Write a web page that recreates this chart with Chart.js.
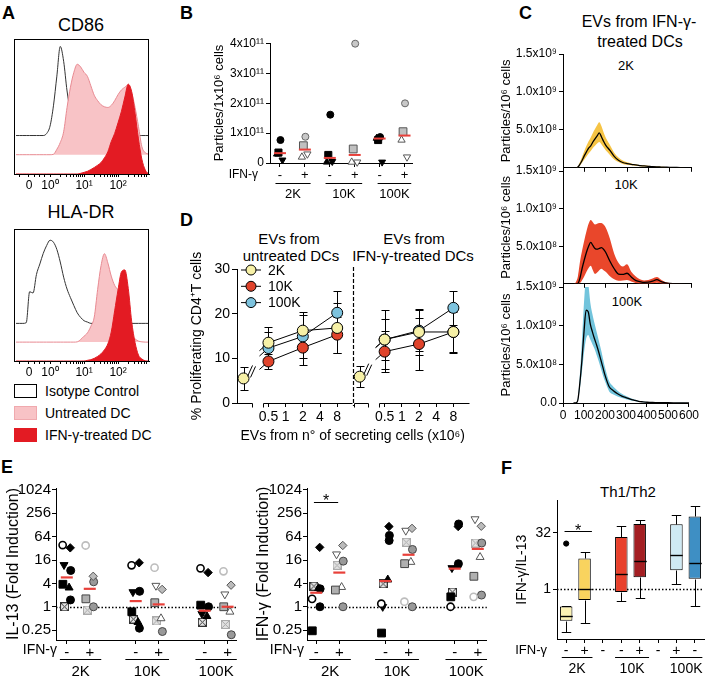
<!DOCTYPE html>
<html>
<head>
<meta charset="utf-8">
<title>EV figure</title>
<script src="https://cdn.jsdelivr.net/npm/chart.js@4.4.1/dist/chart.umd.min.js"></script>
<style>
  html, body { margin: 0; padding: 0; background: #fff; }
  body { position: relative; width: 709px; height: 682px; overflow: hidden;
         font-family: 'Liberation Sans', Arial, sans-serif; color: #000; }
  canvas { position: absolute; }
  .t { position: absolute; white-space: nowrap; line-height: 1; }
  .c { transform: translateX(-50%); }
  .L { font-weight: bold; font-size: 18px; }
  .sw { position: absolute; width: 21px; height: 12px; border: 1px solid #000; }
</style>
</head>
<body>
<!-- panel letters -->
<div class="t L" style="left:2px;top:4px">A</div>
<div class="t L" style="left:180px;top:4px">B</div>
<div class="t L" style="left:519px;top:4px">C</div>
<div class="t L" style="left:180px;top:211px">D</div>
<div class="t L" style="left:1px;top:458px">E</div>
<div class="t L" style="left:501px;top:459px">F</div>

<!-- A titles + legend -->
<div class="t c" style="left:81px;top:16px;font-size:18px">CD86</div>
<div class="t c" style="left:81px;top:203px;font-size:18px">HLA-DR</div>
<div class="sw" style="left:14px;top:384px;background:#fff"></div>
<div class="t" style="left:45px;top:384px;font-size:14px">Isotype Control</div>
<div class="sw" style="left:14px;top:406px;background:#F8C3C6;border-color:#F0A9AE"></div>
<div class="t" style="left:45px;top:406px;font-size:14px">Untreated DC</div>
<div class="sw" style="left:14px;top:428px;background:#E31B23;border-color:#E31B23"></div>
<div class="t" style="left:45px;top:428px;font-size:14px">IFN-γ-treated DC</div>

<!-- C titles -->
<div class="t c" style="left:639px;top:14px;font-size:16px">EVs from IFN-γ-</div>
<div class="t c" style="left:640px;top:34px;font-size:16px">treated DCs</div>
<div class="t c" style="left:626px;top:59px;font-size:13px">2K</div>
<div class="t c" style="left:626px;top:178px;font-size:13px">10K</div>
<div class="t c" style="left:627px;top:295px;font-size:13px">100K</div>

<!-- D titles -->
<div class="t c" style="left:289px;top:231px;font-size:15px">EVs from</div>
<div class="t c" style="left:291px;top:248px;font-size:15px">untreated DCs</div>
<div class="t c" style="left:414px;top:231px;font-size:15px">EVs from</div>
<div class="t c" style="left:413px;top:248px;font-size:15px">IFN-γ-treated DCs</div>

<!-- F title -->
<div class="t c" style="left:628px;top:484px;font-size:15px">Th1/Th2</div>

<canvas id="a1" width="160" height="170" style="left:0;top:30px"></canvas>
<canvas id="a2" width="160" height="167" style="left:0;top:220px"></canvas>
<canvas id="b" width="212" height="170" style="left:208px;top:33px"></canvas>
<canvas id="c1" width="203" height="133" style="left:497px;top:44px"></canvas>
<canvas id="c2" width="203" height="132" style="left:497px;top:161px"></canvas>
<canvas id="c3" width="203" height="146" style="left:497px;top:277px"></canvas>
<canvas id="d" width="290" height="205" style="left:185px;top:240px"></canvas>
<canvas id="e1" width="245" height="204" style="left:0;top:478px"></canvas>
<canvas id="e2" width="245" height="204" style="left:250px;top:478px"></canvas>
<canvas id="f" width="199" height="191" style="left:510px;top:490px"></canvas>

<script>
// ---------- data ----------

// A: flow histograms, x in decades (10^0 = 0), heights in % of panel
const A_X = [-1.0,-0.9,-0.8,-0.7,-0.6,-0.5,-0.4,-0.3,-0.2,-0.1,0,0.1,0.2,0.3,0.4,0.5,0.6,0.7,0.8,0.9,1.0,1.1,1.2,1.3,1.4,1.5,1.6,1.7,1.8,1.9,2.0,2.1,2.2,2.3,2.4,2.5,2.6,2.7,2.8,2.9];
const CD86_ISO = [0,0,0,0,0,0,0,0,0,1.5,7,22,44,66,55,33,18,10,5,2,0.5,0,0,0,0,0,0,0,0,0,0,0,0,0,0,0,0,0,0,0];
const CD86_UNT = [0,0,0,0,0,0,0,0,0,0,0,0.3,4,9,17,35,50,61,67,65,61,58,51,44,40,37,35.5,35,36.5,40,44.5,48,50,52,46,35,21,6,1.5,0.5];
const CD86_IFN = [0,0,0,0,0,0,0,0,0,0,0,0,0,0,0,0,0,0,0,0.5,1.2,2,3.3,4.8,6.5,8.5,12,16.5,24,30,38,46.5,57,66.5,61,45,26,11,3,0];
const HLA_ISO = [0,0,0,0.5,24,23,37,45,53,59,63,61.5,56,46.5,35,26,19.5,13.5,8,4.5,2,1,0,0,0,0,0,0,0,0,0,0,0,0,0,0,0,0,0,0];
const HLA_UNT = [0,0,0,0,0,0,0,0,0,0,0,0,0,0,0,0,0,0,0.2,2,4.5,7,12,19,40,58,67,60,50,43,39.5,35,30,23,6,2.5,0.8,0.2,0,0];
const HLA_IFN = [0,0,0,0,0,0,0,0,0,0,0,0,0,0,0,0,0,0,0,0,0,0.5,1,2,3.5,5.5,8.5,13,22,38,54,67.5,69,55,30,14,4.5,1.5,0.2,0];
const A_MAJOR = [-0.62, 0, 1, 2];
const A_MAJOR_LBL = ['0', '10⁰', '10¹', '10²'];

// B: particles per 1e6 cells; columns 2K-,2K+,10K-,10K+,100K-,100K+
const B_CIRC = [0.77e11, 0.88e11, 1.62e11, 4.0e11, 0.87e11, 2.0e11];
const B_SQR  = [0.35e11, 0.58e11, 0.27e11, 0.47e11, 0.77e11, 1.05e11];
const B_TDN  = [0.1e11, 0.3e11, 0.05e11, 0.03e11, 0.03e11, 0.2e11];
const B_TUP  = [0.3e11, 0.2e11, 0.03e11, 0.03e11, 0.83e11, 0.77e11];
const B_MED  = [0.33e11, 0.45e11, 0.17e11, 0.27e11, 0.82e11, 0.92e11];

// C: size distributions (nm) in units of 1e8 particles/1e6 cells
const C_NM = [50,60,70,80,90,100,110,120,130,140,150,160,170,180,190,200,220,240,260,280,300,320,340,360,380,400,420,440,460,480,500,550,600];
const C2K_MEAN = [0,0,0.1,0.5,1.0,1.6,2.1,2.6,2.9,3.4,3.8,4.2,4.6,4.1,3.5,3.0,2.3,1.5,1.0,0.7,0.55,0.45,0.38,0.3,0.25,0.2,0.15,0.12,0.1,0.08,0.06,0.03,0];
const C2K_UP   = [0,0,0.2,0.8,1.5,2.2,2.9,3.5,4.0,4.6,5.1,5.6,6.0,5.5,4.7,4.0,3.0,2.0,1.35,0.95,0.72,0.58,0.48,0.38,0.32,0.26,0.2,0.16,0.13,0.1,0.08,0.04,0];
const C2K_LO   = [0,0,0.05,0.3,0.7,1.1,1.5,1.9,2.2,2.6,2.9,3.2,3.4,3.1,2.7,2.3,1.7,1.1,0.75,0.5,0.4,0.33,0.28,0.22,0.18,0.15,0.11,0.09,0.07,0.06,0.04,0.02,0];
const C10K_MEAN = [0,0,0.05,0.8,2.1,3.2,4.2,5.0,5.5,5.1,4.7,4.6,4.7,4.8,4.6,4.2,3.0,2.0,1.3,1.25,1.4,0.9,0.45,0.3,0.2,0.22,0.35,0.55,0.3,0.12,0.06,0.02,0];
const C10K_UP   = [0,0.2,1.0,3.0,4.5,5.8,7.0,8.0,8.5,8.2,7.9,8.0,8.1,8.1,7.9,7.5,6.0,4.0,2.8,2.3,2.6,1.6,1.0,0.6,0.45,0.5,0.7,0.9,0.55,0.25,0.12,0.04,0];
const C10K_LO   = [0,0,0,0.1,0.5,1.0,1.6,2.1,2.4,1.8,1.3,1.5,1.8,2.0,1.8,1.6,1.0,0.6,0.4,0.45,0.5,0.3,0.1,0.05,0.03,0.03,0.08,0.15,0.05,0.02,0,0,0];
const C100K_MEAN = [0,0,0.3,2.5,5.5,9.2,12.0,11.8,10.2,9.2,8.3,7.5,6.6,5.6,4.6,3.6,2.1,1.6,1.2,0.9,0.7,0.5,0.35,0.22,0.15,0.1,0.08,0.06,0.05,0.04,0.03,0.02,0];
const C100K_UP   = [0,0,0.5,3.5,8,13,16,15.5,13,11.5,10.3,9.2,8.1,7.0,5.8,4.6,2.8,2.1,1.6,1.2,0.9,0.65,0.45,0.3,0.2,0.14,0.1,0.08,0.06,0.05,0.04,0.02,0];
const C100K_LO   = [0,0,0.2,1.8,4.0,6.5,8.3,8.8,8.2,7.6,7.0,6.2,5.4,4.5,3.6,2.8,1.5,1.1,0.85,0.65,0.5,0.35,0.25,0.15,0.1,0.07,0.05,0.04,0.03,0.03,0.02,0.01,0];
const C_XTICKS = [0, 100, 200, 300, 400, 500, 600];

// D: % proliferating CD4+ T cells (mean, sd) at 0.5, 2, 8 x10^6 cells
const D_CELLS = [0.5, 2, 8];
const D_XVALS = [0.5, 1, 2, 4, 8];
const D_XLABELS = ['0.5', '1', '2', '4', '8'];
const D_UNT_2K = [13.5, 16.2, 16.8],   D_UNT_2K_SD = [3.6, 4.1, 5.5];
const D_UNT_10K = [9.3, 12.4, 15.3],   D_UNT_10K_SD = [1.7, 4.0, 4.0];
const D_UNT_100K = [12.3, 14.9, 20.2], D_UNT_100K_SD = [3.7, 4.9, 4.9];
const D_IFN_2K = [14.2, 15.9, 15.9],   D_IFN_2K_SD = [6.6, 5.2, 4.5];
const D_IFN_10K = [11.5, 13.2, 15.9],  D_IFN_10K_SD = [4.6, 5.8, 4.6];
const D_IFN_100K = [14.2, 16.2, 21.3], D_IFN_100K_SD = [4.5, 4.6, 3.8];
const D_CTRL = [5.5, 5.9], D_CTRL_SD = [2.5, 2.4];

// E: fold induction per donor; columns 2K-,2K+,10K-,10K+,100K-,100K+
const IL13_D0 = [39, 38, 11.7, 10.2, 9.8, 8.2];
const IL13_D1 = [33, 6.1, 13.6, 2.8, 7.6, 3.6];
const IL13_D2 = [12, null, 2.4, 3.5, 0.66, 2.1];
const IL13_D3 = [8.6, 4.4, 2.5, null, 1.0, null];
const IL13_D4 = [3.8, 1.6, 0.74, 1.27, 1.1, 1.0];
const IL13_D5 = [3.1, null, 0.4, 0.5, 0.57, 0.74];
const IL13_D6 = [1.5, 1.0, 0.28, 0.23, null, 0.19];
const IL13_D7 = [1.0, 0.82, 0.48, 0.43, 0.4, 0.35];
const IL13_MED = [5.7, 2.9, 1.4, 1.15, 0.79, 1.0];
const IFNG_D0 = [1.6, null, 1.2, 1.35, 1.0, 1.8];
const IFNG_D1 = [34, 38, 117, 105, 117, 119];
const IFNG_D2 = [null, 22.6, 1.0, 92, 10, 182];
const IFNG_D3 = [2.9, 15, 69, 30, 136, 44];
const IFNG_D4 = [0.24, 2.7, 0.21, 12.9, 1.8, 6.1];
const IFNG_D5 = [3.0, 3.2, 5.0, 14.2, 11.7, 19];
const IFNG_D6 = [1.0, 1.0, 51, 1.0, 12.9, 2.0];
const IFNG_D7 = [3.4, 11.7, 3.9, 46, 2.4, 44];
const IFNG_MED = [2.3, 7.6, 4.6, 21.9, 9.6, 31];
const E_YTICKS = [0.25, 1, 4, 16, 64, 256, 1024];

// F: IFN-γ/IL-13 box plots (spacer columns are null)
const F_LABELS = ['-', '+', '-', '-', '+', '-', '+', '-'];
const F_MIN = [0.068, 0.126, null, 0.48, 0.59, null, 1.33, 0.34];
const F_Q1  = [0.14, 0.51, null, 0.83, 2.06, null, 3.2, 1.88];
const F_MED = [0.19, 1.0, null, 2.5, 5.5, null, 8.3, 5.0];
const F_Q3  = [0.34, 6.6, null, 25, 56, null, 55, 89];
const F_MAX = [0.36, 9.6, null, 48, 70, null, 95, 164];
const F_OUT = [16.6, null, null, null, null, null, null, null];

// ---------- setup ----------
const FONT = "'Liberation Sans', Arial, sans-serif";
Chart.defaults.font.family = FONT;
Chart.defaults.font.size = 12;
Chart.defaults.color = '#000';
Chart.defaults.animation = false;
Chart.defaults.responsive = false;
Chart.defaults.devicePixelRatio = 1;
Chart.defaults.plugins.legend.display = false;
Chart.defaults.plugins.tooltip.enabled = false;

const el = id => document.getElementById(id);
const setTicks = vals => s => { s.ticks = vals.map(v => ({ value: v })); };
const ax = o => ({
  ...o,
  border: { color: '#000', width: 1, ...(o.border || {}) },
  grid: { drawOnChartArea: false, color: '#000', tickLength: 4, ...(o.grid || {}) },
  ticks: { color: '#000', padding: 2, autoSkip: false, maxRotation: 0, ...(o.ticks || {}) }
});
const MED_RED = '#E8403A';

// ---------- plugins ----------
const frameBox = {
  id: 'frameBox',
  afterDatasetsDraw(chart) {
    const { ctx, chartArea: a } = chart;
    ctx.save();
    ctx.strokeStyle = '#000'; ctx.lineWidth = 1;
    ctx.strokeRect(Math.round(a.left) + 0.5, Math.round(a.top) + 0.5, Math.round(a.right - a.left) - 1, Math.round(a.bottom - a.top));
    ctx.restore();
  }
};

const groupAxis = {
  id: 'groupAxis',
  afterDraw(chart, args, o) {
    const { ctx, chartArea: ca } = chart, x = chart.scales.x, y0 = ca.bottom;
    ctx.save();
    ctx.fillStyle = '#000'; ctx.strokeStyle = '#000'; ctx.lineWidth = 1;
    ctx.textBaseline = 'middle';
    ctx.textAlign = 'right';
    ctx.font = o.rowSize + 'px ' + FONT;
    ctx.fillText('IFN-γ', ca.left - o.rowGap, y0 + o.rowY);
    ctx.textAlign = 'center';
    ctx.font = o.size + 'px ' + FONT;
    o.groups.forEach(([a, b, label]) => {
      const xa = x.getPixelForValue(a), xb = x.getPixelForValue(b);
      const yl = Math.round(y0 + o.lineY) + 0.5;
      ctx.beginPath(); ctx.moveTo(xa, yl); ctx.lineTo(xb, yl); ctx.stroke();
      ctx.fillText(label, (xa + xb) / 2, y0 + o.textY);
    });
    ctx.restore();
  }
};

const refLine = {
  id: 'refLine',
  beforeDatasetsDraw(chart, args, o) {
    const { ctx, chartArea: ca } = chart;
    const yy = Math.round(chart.scales.y.getPixelForValue(o.value)) + 0.5;
    ctx.save();
    ctx.strokeStyle = '#000'; ctx.lineWidth = 1.4; ctx.setLineDash([1.5, 2]);
    ctx.beginPath(); ctx.moveTo(ca.left, yy); ctx.lineTo(ca.right, yy); ctx.stroke();
    ctx.restore();
  }
};

const sigBar = {
  id: 'sigBar',
  afterDraw(chart, args, o) {
    const { ctx } = chart, x = chart.scales.x, y = chart.scales.y;
    const x1 = x.getPixelForValue(o.x1), x2 = x.getPixelForValue(o.x2);
    const yy = Math.round(y.getPixelForValue(o.y)) + 0.5;
    ctx.save();
    ctx.strokeStyle = '#000'; ctx.lineWidth = 1;
    ctx.beginPath(); ctx.moveTo(x1, yy); ctx.lineTo(x2, yy); ctx.stroke();
    ctx.fillStyle = '#000'; ctx.font = o.size + 'px ' + FONT;
    ctx.textAlign = 'center'; ctx.textBaseline = 'alphabetic';
    ctx.fillText('*', (x1 + x2) / 2, yy + o.dy);
    ctx.restore();
  }
};

// square with a cross, used as a point style
function crossBox(fill, stroke) {
  const c = document.createElement('canvas');
  c.width = c.height = 9;
  const g = c.getContext('2d');
  g.fillStyle = fill; g.fillRect(0, 0, 9, 9);
  g.strokeStyle = stroke; g.lineWidth = 1;
  g.strokeRect(0.5, 0.5, 8, 8);
  g.beginPath(); g.moveTo(1, 1); g.lineTo(8, 8); g.moveTo(8, 1); g.lineTo(1, 8); g.stroke();
  return c;
}

function donorSets(vals, st, jit, pos) {
  const minus = [], plus = [];
  vals.forEach((v, i) => {
    if (v === null) return;
    (i % 2 ? plus : minus).push({ x: pos[i] + jit, y: v });
  });
  const mk = (data, s) => ({
    data, clip: false,
    pointStyle: s.ps, pointRotation: s.rot || 0, pointRadius: s.r,
    pointBackgroundColor: s.bg, pointBorderColor: s.bc, pointBorderWidth: s.bw || 1
  });
  return [mk(minus, st[0]), mk(plus, st[1])];
}

// ---------- A ----------
const ISO_OFF = 28.5, UNT_OFF = 14.3;
const A_MINOR = [-0.9, -0.45, -0.3, -0.15];
[0, 1, 2].forEach(d => { for (let k = 2; k <= 9; k++) { const v = d + Math.log10(k); if (v < 2.9) A_MINOR.push(v); } });

function histChart(id, iso, unt, ifn) {
  const pts = v => A_X.map((x, i) => ({ x, y: v[i] }));
  return new Chart(el(id), {
    type: 'line',
    data: { datasets: [
      { data: pts(ifn), order: 0, fill: 'origin', backgroundColor: '#E31B23', borderColor: '#E31B23', borderWidth: 1 },
      { data: pts(unt.map(v => v + UNT_OFF)), order: 1, fill: { value: UNT_OFF }, backgroundColor: '#F8C3C6', borderColor: '#E88A92', borderWidth: 1 },
      { data: pts(iso.map(v => v + ISO_OFF)), order: 2, fill: { value: ISO_OFF }, backgroundColor: '#fff', borderColor: '#333', borderWidth: 1 }
    ]},
    plugins: [frameBox],
    options: {
      layout: { padding: { left: 14, right: 11, top: 9 } },
      elements: { point: { radius: 0 }, line: { cubicInterpolationMode: 'monotone' } },
      scales: {
        x: ax({ type: 'linear', min: -1.06, max: 2.91,
          afterBuildTicks: setTicks([...A_MAJOR, ...A_MINOR]),
          afterFit: s => { s.height = 26; },
          grid: { tickLength: 3 },
          ticks: { font: { size: 12 }, padding: 1, callback: v => { const k = A_MAJOR.indexOf(v); return k < 0 ? '' : A_MAJOR_LBL[k]; } } }),
        y: { display: false, min: 0, max: 100 }
      }
    }
  });
}
histChart('a1', CD86_ISO, CD86_UNT, CD86_IFN);
histChart('a2', HLA_ISO, HLA_UNT, HLA_IFN);

// ---------- B ----------
const B_POS = [0, 1, 2, 3, 4, 5];
const B_STYLE = [
  [{ ps: 'circle', bg: '#000', bc: '#000', r: 3.5 }, { ps: 'circle', bg: '#c8c8c8', bc: '#666', r: 3.5 }],
  [{ ps: 'rect', bg: '#000', bc: '#000', r: 5 }, { ps: 'rect', bg: '#c0c0c0', bc: '#555', r: 5.5 }],
  [{ ps: 'triangle', rot: 180, bg: '#000', bc: '#000', r: 4 }, { ps: 'triangle', rot: 180, bg: '#fff', bc: '#555', r: 4.2 }],
  [{ ps: 'triangle', bg: '#000', bc: '#000', r: 4 }, { ps: 'triangle', bg: '#fff', bc: '#555', r: 4.2 }]
];
const B_JIT = [0.02, -0.06, 0.1, -0.12];
const bSets = [{ data: B_POS.map((x, i) => ({ x, y: B_MED[i] })), pointStyle: 'line', pointRadius: 6, pointBorderColor: MED_RED, pointBorderWidth: 2, clip: false }];
[B_CIRC, B_SQR, B_TDN, B_TUP].forEach((v, d) => bSets.push(...donorSets(v, B_STYLE[d], B_JIT[d], B_POS)));

new Chart(el('b'), {
  type: 'scatter',
  data: { datasets: bSets },
  plugins: [groupAxis],
  options: {
    layout: { padding: { top: 10, right: 8 } },
    scales: {
      x: ax({ type: 'linear', min: -0.4, max: 5.3, afterBuildTicks: setTicks(B_POS),
        afterFit: s => { s.height = 40; },
        ticks: { font: { size: 13 }, padding: 1, callback: (v, i) => (i % 2 ? '+' : '-') } }),
      y: ax({ type: 'linear', min: 0, max: 4.023e11, afterBuildTicks: setTicks([0, 1e11, 2e11, 3e11, 4e11]),
        afterFit: s => { s.width = 62; },
        ticks: { font: { size: 12 }, padding: 2, callback: v => (v === 0 ? '0' : Math.round(v / 1e11) + 'x10¹¹') },
        title: { display: true, text: 'Particles/1x10⁶ cells', font: { size: 13 }, padding: { top: 4, bottom: 0 } } })
    },
    plugins: {
      groupAxis: { rowSize: 12, size: 13, rowGap: 12, rowY: 12, lineY: 20, textY: 31,
        groups: [[-0.18, 1.23, '2K'], [1.83, 3.3, '10K'], [3.92, 5.27, '100K']] }
    }
  }
});

// ---------- C ----------
function cChart(id, up, lo, mean, color, bottom) {
  const pts = v => C_NM.map((x, i) => ({ x, y: v[i] }));
  const yt = bottom ? [0, 5, 10, 15] : [5, 10, 15];
  return new Chart(el(id), {
    type: 'line',
    data: { datasets: [
      { data: pts(up), fill: '+1', backgroundColor: color, borderColor: 'transparent', borderWidth: 0, order: 2 },
      { data: pts(lo), fill: false, borderColor: 'transparent', borderWidth: 0, order: 3 },
      { data: pts(mean), fill: false, borderColor: '#000', borderWidth: 1.3, order: 0 }
    ]},
    options: {
      layout: { padding: { top: 10, right: 9 } },
      elements: { point: { radius: 0 }, line: { cubicInterpolationMode: 'monotone' } },
      scales: {
        x: ax({ type: 'linear', min: 0, max: 600, afterBuildTicks: setTicks(C_XTICKS),
          afterFit: s => { s.height = bottom ? 20 : 6; },
          ticks: { display: bottom, font: { size: 12 }, padding: 1 } }),
        y: ax({ type: 'linear', min: 0, max: 15, afterBuildTicks: setTicks(yt),
          afterFit: s => { s.width = 66; },
          ticks: { font: { size: 12 }, padding: 2, callback: v => ({ 0: '0.0', 5: '5.0x10⁸', 10: '1.0x10⁹', 15: '1.5x10⁹' })[v] },
          title: { display: true, text: 'Particles/10⁶ cells', font: { size: 13 }, padding: { top: 2, bottom: 0 } } })
      }
    }
  });
}
cChart('c1', C2K_UP, C2K_LO, C2K_MEAN, '#F6C445', false);
cChart('c2', C10K_UP, C10K_LO, C10K_MEAN, '#E9472B', false);
cChart('c3', C100K_UP, C100K_LO, C100K_MEAN, '#72C4DC', true);

// ---------- D ----------
const CTRL_POS = -2.45, IFN_SHIFT = 6.76, D_DIV = 3.9;
const D_SEGS = [[CTRL_POS - 0.38, CTRL_POS + 0.47], [-1.31, 3.87],
                [CTRL_POS + IFN_SHIFT - 0.32, CTRL_POS + IFN_SHIFT + 0.51], [IFN_SHIFT - 1.33, IFN_SHIFT + 3.88]];
const YEL = '#F6F0A6', RED = '#E0432B', BLU = '#7DC3DE';

const dSeries = (label, vals, sd, shift, color) => ({
  label, errors: sd,
  data: D_CELLS.map((c, i) => ({ x: Math.log2(c) + shift, y: vals[i] })),
  borderColor: '#000', borderWidth: 1,
  pointBackgroundColor: color, pointBorderColor: '#000', pointBorderWidth: 1, pointRadius: 5.5
});
const dCtrl = (k, shift) => ({
  errors: [D_CTRL_SD[k]], data: [{ x: CTRL_POS + shift, y: D_CTRL[k] }],
  pointBackgroundColor: YEL, pointBorderColor: '#000', pointBorderWidth: 1, pointRadius: 5.5
});

const dDeco = {
  id: 'dDeco',
  beforeDatasetsDraw(chart) {
    const { ctx } = chart, y = chart.scales.y;
    ctx.save(); ctx.strokeStyle = '#000'; ctx.lineWidth = 1;
    chart.data.datasets.forEach((ds, di) => {
      const meta = chart.getDatasetMeta(di);
      ds.errors.forEach((e, i) => {
        const px = Math.round(meta.data[i].x) + 0.5, v = ds.data[i].y;
        const yt = Math.round(y.getPixelForValue(v + e)) + 0.5, yb = Math.round(y.getPixelForValue(v - e)) + 0.5;
        ctx.beginPath();
        ctx.moveTo(px, yt); ctx.lineTo(px, yb);
        ctx.moveTo(px - 4, yt); ctx.lineTo(px + 4, yt);
        ctx.moveTo(px - 4, yb); ctx.lineTo(px + 4, yb);
        ctx.stroke();
      });
      // stub of the broken line leading in from the control
      if (di < 6) {
        const p = meta.data[0];
        ctx.beginPath(); ctx.moveTo(p.x, p.y); ctx.lineTo(p.x - 9, p.y + 8); ctx.stroke();
      }
    });
    ctx.restore();
  },
  afterDraw(chart) {
    const { ctx, chartArea: ca } = chart, x = chart.scales.x;
    const yb = Math.round(ca.bottom) + 0.5;
    ctx.save(); ctx.strokeStyle = '#000'; ctx.fillStyle = '#000'; ctx.lineWidth = 1;
    D_SEGS.forEach(([a, b], k) => {
      const xa = Math.round(x.getPixelForValue(a)) + 0.5, xb = Math.round(x.getPixelForValue(b)) + 0.5;
      ctx.beginPath();
      ctx.moveTo(k === 0 ? ca.left : xa, yb); ctx.lineTo(xb, yb);
      if (k > 0) { ctx.moveTo(xa, yb); ctx.lineTo(xa, yb + 4); }
      if (k === 0 || k === 2) { ctx.moveTo(xb, yb); ctx.lineTo(xb, yb + 4); }
      ctx.stroke();
    });
    const xd = Math.round(x.getPixelForValue(D_DIV)) + 0.5;
    ctx.setLineDash([4, 2]); ctx.lineWidth = 1.2;
    ctx.beginPath(); ctx.moveTo(xd, ca.top - 2); ctx.lineTo(xd, ca.bottom + 3); ctx.stroke();
    ctx.setLineDash([]); ctx.lineWidth = 1;
    // break marks next to the controls
    [6, 7].forEach(di => {
      const p = chart.getDatasetMeta(di).data[0];
      ctx.beginPath();
      ctx.moveTo(p.x + 4, p.y - 2); ctx.lineTo(p.x + 9, p.y - 13);
      ctx.moveTo(p.x + 7, p.y - 1); ctx.lineTo(p.x + 12, p.y - 12);
      ctx.stroke();
    });
    // legend
    ctx.font = '14px ' + FONT; ctx.textBaseline = 'middle'; ctx.textAlign = 'left';
    chart.data.datasets.slice(0, 3).forEach((ds, i) => {
      const cy = ca.top + 1 + i * 16.3, cx = ca.left + 14;
      ctx.beginPath(); ctx.moveTo(cx - 10, cy); ctx.lineTo(cx + 10, cy); ctx.stroke();
      ctx.beginPath(); ctx.arc(cx, cy, 5, 0, Math.PI * 2);
      ctx.fillStyle = ds.pointBackgroundColor; ctx.fill(); ctx.stroke();
      ctx.fillStyle = '#000'; ctx.fillText(ds.label, ca.left + 31, cy + 1);
    });
    ctx.restore();
  }
};

new Chart(el('d'), {
  type: 'line',
  data: { datasets: [
    dSeries('2K', D_UNT_2K, D_UNT_2K_SD, 0, YEL),
    dSeries('10K', D_UNT_10K, D_UNT_10K_SD, 0, RED),
    dSeries('100K', D_UNT_100K, D_UNT_100K_SD, 0, BLU),
    dSeries('2K', D_IFN_2K, D_IFN_2K_SD, IFN_SHIFT, YEL),
    dSeries('10K', D_IFN_10K, D_IFN_10K_SD, IFN_SHIFT, RED),
    dSeries('100K', D_IFN_100K, D_IFN_100K_SD, IFN_SHIFT, BLU),
    dCtrl(0, 0), dCtrl(1, IFN_SHIFT)
  ]},
  plugins: [dDeco],
  options: {
    layout: { padding: { top: 29, right: 5 } },
    scales: {
      x: ax({ type: 'linear', min: -2.83, max: 10.64,
        afterBuildTicks: setTicks([...D_XVALS.map(c => Math.log2(c)), ...D_XVALS.map(c => Math.log2(c) + IFN_SHIFT)]),
        afterFit: s => { s.height = 42; },
        border: { display: false },
        ticks: { font: { size: 14 }, padding: 2, callback: (v, i) => D_XLABELS[i % 5] },
        title: { display: true, text: 'EVs from n° of secreting cells (x10⁶)', font: { size: 14 }, padding: { top: 2, bottom: 0 } } }),
      y: ax({ type: 'linear', min: 0, max: 30, afterBuildTicks: setTicks([0, 10, 20, 30]),
        afterFit: s => { s.width = 52; },
        grid: { tickLength: 5 },
        ticks: { font: { size: 14 }, padding: 2 },
        title: { display: true, text: '% Proliferating CD4⁺T cells', font: { size: 14 }, padding: { top: 4, bottom: 0 } } })
    }
  }
});

// ---------- E ----------
const E_POS = [0, 1, 3, 4, 6, 7];
const E_JIT = [-0.18, 0.15, -0.12, 0.17, -0.17, 0.1, 0.16, -0.1];
const E_STYLE = [
  [{ ps: 'circle', bg: '#fff', bc: '#000', bw: 1.6, r: 3.6 }, { ps: 'circle', bg: '#fff', bc: '#bdbdbd', bw: 1.6, r: 3.6 }],
  [{ ps: 'rectRot', bg: '#000', bc: '#000', r: 4.2 }, { ps: 'rectRot', bg: '#bbb', bc: '#555', r: 4.2 }],
  [{ ps: 'triangle', rot: 180, bg: '#000', bc: '#000', r: 4.6 }, { ps: 'triangle', rot: 180, bg: '#fff', bc: '#555', r: 4.6 }],
  [{ ps: 'circle', bg: '#000', bc: '#000', r: 4 }, { ps: 'circle', bg: '#999', bc: '#444', r: 4 }],
  [{ ps: 'rect', bg: '#000', bc: '#000', r: 5.5 }, { ps: 'rect', bg: '#b0b0b0', bc: '#444', r: 5.5 }],
  [{ ps: 'triangle', bg: '#000', bc: '#000', r: 4.6 }, { ps: 'triangle', bg: '#fff', bc: '#555', r: 4.6 }],
  [{ ps: 'circle', bg: '#000', bc: '#000', r: 4 }, { ps: 'circle', bg: '#999', bc: '#444', r: 4 }],
  [{ ps: crossBox('#e6e6e6', '#333') }, { ps: crossBox('#e0e0e0', '#aaa') }]
];
const E_GROUPS = [[-0.3, 1.5, '2K'], [2.55, 4.45, '10K'], [5.6, 7.4, '100K']];

function eChart(id, donors, med, yTitle, L, sig) {
  const ds = [{ data: E_POS.map((x, i) => ({ x, y: med[i] })), pointStyle: 'line', pointRadius: 6,
                pointBorderColor: MED_RED, pointBorderWidth: 2.2, clip: false }];
  donors.forEach((v, d) => ds.push(...donorSets(v, E_STYLE[d], E_JIT[d], E_POS)));
  const plugins = [refLine, groupAxis];
  if (sig) plugins.push(sigBar);
  return new Chart(el(id), {
    type: 'scatter',
    data: { datasets: ds },
    plugins,
    options: {
      layout: { padding: { top: 10, right: L.pad } },
      scales: {
        x: ax({ type: 'linear', min: L.min, max: L.max, afterBuildTicks: setTicks(E_POS),
          afterFit: s => { s.height = 42; },
          ticks: { font: { size: 15 }, padding: 0, callback: (v, i) => (i % 2 ? '+' : '-') } }),
        y: ax({ type: 'logarithmic', min: 0.139, max: 1152, afterBuildTicks: setTicks(E_YTICKS),
          afterFit: s => { s.width = L.yw; },
          ticks: { font: { size: 15 }, padding: 1, callback: v => String(v) },
          title: { display: true, text: yTitle, font: { size: 16 }, padding: { top: 4, bottom: 0 } } })
      },
      plugins: {
        refLine: { value: 1 },
        groupAxis: { rowSize: 14, size: 15, rowGap: L.rowGap, rowY: 10, lineY: 19, textY: 32, groups: E_GROUPS },
        sigBar: sig || {}
      }
    }
  });
}
eChart('e1', [IL13_D0, IL13_D1, IL13_D2, IL13_D3, IL13_D4, IL13_D5, IL13_D6, IL13_D7], IL13_MED,
       'IL-13 (Fold Induction)', { min: -0.47, max: 7.4, pad: 8, yw: 56, rowGap: -1 }, null);
eChart('e2', [IFNG_D0, IFNG_D1, IFNG_D2, IFNG_D3, IFNG_D4, IFNG_D5, IFNG_D6, IFNG_D7], IFNG_MED,
       'IFN-γ (Fold Induction)', { min: -0.4, max: 7.39, pad: 6, yw: 57, rowGap: 3 },
       { x1: -0.1, x2: 0.95, y: 491, size: 16, dy: 3 });

// ---------- F ----------
const F_COLORS = ['#FBF2B4', '#F9D35E', null, '#E8412C', '#A31E22', null, '#CFEAF4', '#3E8FC4'];
const boxWhisk = {
  id: 'boxWhisk',
  afterDatasetsDraw(chart) {
    const { ctx } = chart, y = chart.scales.y, meta = chart.getDatasetMeta(1);
    const p = v => Math.round(y.getPixelForValue(v)) + 0.5;
    ctx.save(); ctx.strokeStyle = '#000'; ctx.lineWidth = 1;
    meta.data.forEach((bar, i) => {
      if (F_MED[i] === null) return;
      const x = Math.round(bar.x) + 0.5, hw = bar.width / 2, cw = bar.width * 0.38;
      ctx.beginPath();
      ctx.moveTo(x, p(F_MAX[i])); ctx.lineTo(x, p(F_Q3[i]));
      ctx.moveTo(x, p(F_Q1[i])); ctx.lineTo(x, p(F_MIN[i]));
      ctx.moveTo(x - cw, p(F_MAX[i])); ctx.lineTo(x + cw, p(F_MAX[i]));
      ctx.moveTo(x - cw, p(F_MIN[i])); ctx.lineTo(x + cw, p(F_MIN[i]));
      ctx.stroke();
      ctx.lineWidth = 1.4;
      ctx.beginPath(); ctx.moveTo(x - hw, p(F_MED[i])); ctx.lineTo(x + hw, p(F_MED[i])); ctx.stroke();
      ctx.lineWidth = 1;
    });
    ctx.restore();
  }
};

new Chart(el('f'), {
  type: 'bar',
  data: {
    labels: F_LABELS,
    datasets: [
      { type: 'line', data: F_OUT, showLine: false, pointRadius: 2.6, pointBackgroundColor: '#000', pointBorderColor: '#000', clip: false },
      { data: F_Q1.map((q, i) => (q === null ? null : [q, F_Q3[i]])), backgroundColor: F_COLORS,
        borderColor: '#000', borderWidth: 1, borderSkipped: false, barPercentage: 0.68, categoryPercentage: 1 }
    ]
  },
  plugins: [refLine, boxWhisk, groupAxis, sigBar],
  options: {
    layout: { padding: { top: 10, right: 1 } },
    scales: {
      x: ax({ type: 'category', offset: true, grid: { offset: false },
        afterFit: s => { s.height = 42; },
        ticks: { font: { size: 14 }, padding: 0 } }),
      y: ax({ type: 'logarithmic', min: 0.0455, max: 239, afterBuildTicks: setTicks([1, 32]),
        afterFit: s => { s.width = 47; },
        ticks: { font: { size: 14 }, padding: 2, callback: v => String(v) },
        title: { display: true, text: 'IFN-γ/IL-13', font: { size: 14 }, padding: { top: 4, bottom: 0 } } })
    },
    plugins: {
      refLine: { value: 1 },
      groupAxis: { rowSize: 13, size: 14, rowGap: 10, rowY: 11, lineY: 18, textY: 30,
        groups: [[-0.24, 1.43, '2K'], [2.66, 4.51, '10K'], [5.65, 7.41, '100K']] },
      sigBar: { x1: -0.09, x2: 1.4, y: 36, size: 16, dy: 4 }
    }
  }
});
</script>
</body>
</html>
